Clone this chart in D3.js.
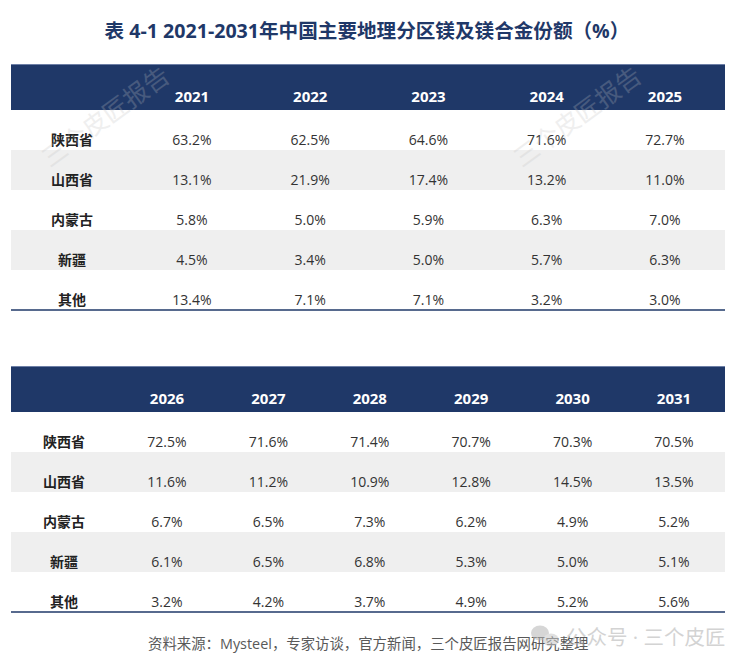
<!DOCTYPE html>
<html>
<head>
    <meta charset="utf-8">
    <title>镁及镁合金份额</title>
    <script src="https://d3js.org/d3.v7.min.js"></script>
    <style>
        body { margin: 0; background: #fff; }
        text { font-family: "Open Sans", "Noto Sans CJK SC", sans-serif; }
    </style>
</head>
<body>
    <div id="chart"></div>
    <script>
        const regions = ["陕西省", "山西省", "内蒙古", "新疆", "其他"];
        const years1 = ["2021", "2022", "2023", "2024", "2025"];
        const years2 = ["2026", "2027", "2028", "2029", "2030", "2031"];
        const shaanxi = [63.2, 62.5, 64.6, 71.6, 72.7, 72.5, 71.6, 71.4, 70.7, 70.3, 70.5];
        const shanxi = [13.1, 21.9, 17.4, 13.2, 11.0, 11.6, 11.2, 10.9, 12.8, 14.5, 13.5];
        const neimenggu = [5.8, 5.0, 5.9, 6.3, 7.0, 6.7, 6.5, 7.3, 6.2, 4.9, 5.2];
        const xinjiang = [4.5, 3.4, 5.0, 5.7, 6.3, 6.1, 6.5, 6.8, 5.3, 5.0, 5.1];
        const others = [13.4, 7.1, 7.1, 3.2, 3.0, 3.2, 4.2, 3.7, 4.9, 5.2, 5.6];
        const series = [shaanxi, shanxi, neimenggu, xinjiang, others];

        const width = 749, height = 669;
        const navy = "#1f3868";

        const svg = d3.select("#chart").append("svg")
            .attr("width", width)
            .attr("height", height);

        svg.append("text")
            .attr("x", 367).attr("y", 30)
            .attr("text-anchor", "middle")
            .attr("dominant-baseline", "central")
            .style("font-size", "19.6px")
            .style("font-weight", "bold")
            .style("fill", navy)
            .text("表 4-1 2021-2031年中国主要地理分区镁及镁合金份额（%）");

        function drawTable(top, years, offset, labelX, xRange) {
            const left = 11, right = 725;
            const headerH = 46;
            const g = svg.append("g");

            const x = d3.scalePoint().domain(years).range(xRange);
            const y = d3.scaleBand().domain(regions)
                .range([top + headerH, top + headerH + 200]);

            // header band
            g.append("rect")
                .attr("x", left).attr("y", top)
                .attr("width", right - left).attr("height", headerH)
                .attr("fill", navy);
            g.append("line")
                .attr("x1", left).attr("x2", right)
                .attr("y1", top + 0.5).attr("y2", top + 0.5)
                .attr("stroke", "#6d7fa6").attr("stroke-width", 1);

            g.selectAll(".yr").data(years).enter().append("text")
                .attr("x", d => x(d))
                .attr("y", top + headerH - 14)
                .attr("text-anchor", "middle")
                .attr("dominant-baseline", "central")
                .style("font-size", "15px")
                .style("font-weight", "bold")
                .style("fill", "#fff")
                .text(d => d);

            // zebra rows
            g.selectAll(".band").data(regions.filter((d, i) => i % 2 === 1)).enter().append("rect")
                .attr("x", left).attr("y", d => y(d))
                .attr("width", right - left).attr("height", y.bandwidth())
                .attr("fill", "#efefef");

            const rows = g.selectAll(".row").data(regions).enter().append("g")
                .attr("transform", d => `translate(0,${y(d) + y.bandwidth() / 2 + 9})`);

            rows.append("text")
                .attr("x", labelX)
                .attr("text-anchor", "middle")
                .attr("dominant-baseline", "central")
                .style("font-size", "14px")
                .style("font-weight", "bold")
                .style("fill", "#222")
                .text(d => d);

            rows.selectAll(".val")
                .data((d, i) => years.map((yr, j) => ({ yr: yr, v: series[i][j + offset] })))
                .enter().append("text")
                .attr("x", d => x(d.yr))
                .attr("text-anchor", "middle")
                .attr("dominant-baseline", "central")
                .style("font-size", "14px")
                .style("fill", "#333")
                .text(d => d.v.toFixed(1) + "%");

            g.append("line")
                .attr("x1", left).attr("x2", right)
                .attr("y1", y.range()[1]).attr("y2", y.range()[1])
                .attr("stroke", navy).attr("stroke-width", 1.6);
        }

        drawTable(64, years1, 0, 72, [192, 665]);
        drawTable(366, years2, 5, 64, [167, 674]);

        // faint diagonal watermarks
        [[50, 168], [522, 168]].forEach(p => {
            svg.append("text")
                .attr("transform", `translate(${p[0]},${p[1]}) rotate(-36)`)
                .style("font-size", "25px")
                .style("fill", "#c0c0c0")
                .style("opacity", 0.25)
                .text("三个皮匠报告");
        });

        // source
        svg.append("text")
            .attr("x", 148).attr("y", 643)
            .attr("dominant-baseline", "central")
            .style("font-size", "14.4px")
            .style("fill", "#595959")
            .text("资料来源：Mysteel，专家访谈，官方新闻，三个皮匠报告网研究整理");

        // account watermark
        const wm = svg.append("g").style("opacity", 0.55);
        wm.append("ellipse").attr("cx", 540).attr("cy", 633).attr("rx", 9).attr("ry", 7.5).attr("fill", "#b5b5b5");
        wm.append("ellipse").attr("cx", 551).attr("cy", 640).attr("rx", 8).attr("ry", 6.5).attr("fill", "#c8c8c8");
        wm.append("text")
            .attr("x", 566).attr("y", 637)
            .attr("dominant-baseline", "central")
            .style("font-size", "20.5px")
            .style("fill", "#b0b0b0")
            .text("公众号 · 三个皮匠");
    </script>
</body>
</html>
